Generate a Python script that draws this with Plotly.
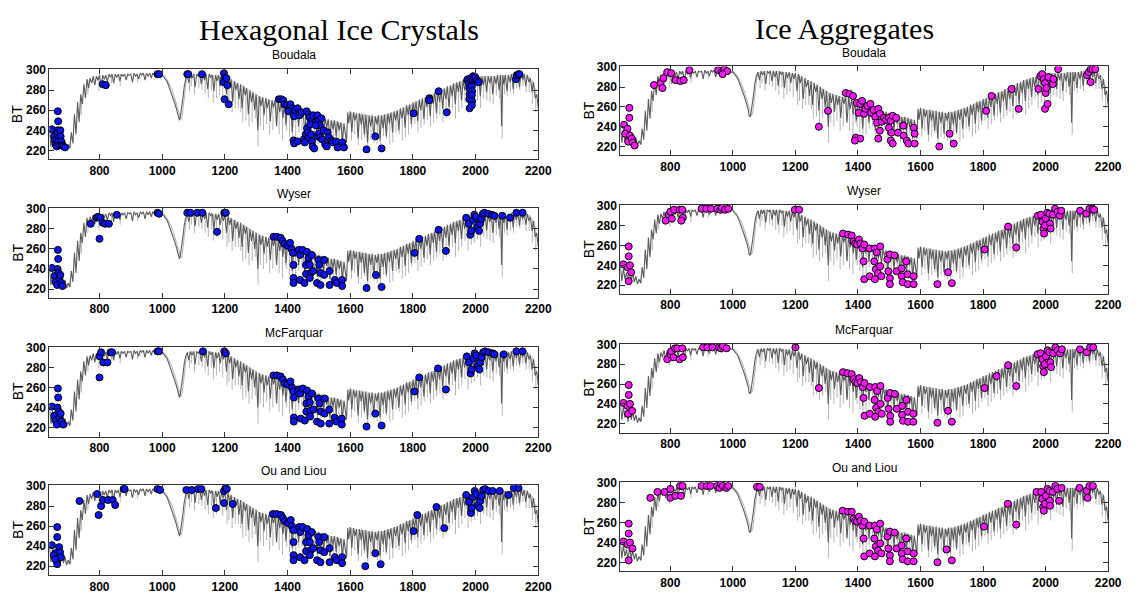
import plotly.graph_objects as go

W, H = 1138, 597

# ---------------- spectrum (wavenumber, BT) ----------------
spectrum = [
(640,240),(645,224),(650,237),(655,226),(660,233),(665,222),(670,236),(675,224),(680,232),(685,223),
(690,229),(695,221),(700,226),(705,222),(710,238),(715,227),(720,256),(725,236),(730,268),(735,248),
(740,276),(745,266),(750,286),(755,272),(760,291),(765,282),(770,292),(775,287),(780,294),(785,285),
(790,294),(795,290),(800,295),(805,283),(810,295),(815,291),(820,295),(825,288),(830,296),(835,293),
(840,296),(845,287),(850,296),(855,293),(860,296),(865,289),(870,296),(875,294),(880,296),(885,290),
(890,296),(895,295),(900,296),(905,288),(910,297),(915,294),(920,296),(925,291),(930,297),(935,295),
(940,297),(945,290),(950,297),(955,294),(960,297),(965,292),(970,297),(975,295),(980,297),(985,293),
(990,296),(995,295),(1000,295),(1005,293),(1010,291),(1015,289),(1020,285),(1025,281),(1030,277),(1035,272),
(1040,267),(1045,262),(1050,256),(1052,251),(1055,250),(1058,254),(1062,262),(1066,272),(1070,283),(1075,291),
(1080,295),(1085,287),(1090,296),(1095,292),(1100,296),(1105,283),(1110,296),(1115,294),(1120,296),(1125,286),
(1130,296),(1135,290),(1140,296),(1145,281),(1150,296),(1155,293),(1160,295),(1165,279),(1170,295),(1175,289),
(1180,295),(1185,284),(1190,294),(1195,288),(1200,294),(1205,276),(1210,293),(1215,284),(1220,291),(1225,268),
(1230,289),(1235,280),(1240,287),(1245,271),(1250,286),(1255,262),(1260,284),(1265,275),(1270,282),(1275,256),
(1280,280),(1285,268),(1290,278),(1295,260),(1300,276),(1305,240),(1310,274),(1315,264),(1320,273),(1325,255),
(1330,272),(1335,262),(1340,271),(1345,249),(1350,270),(1355,263),(1360,270),(1365,244),(1370,269),(1375,258),
(1380,268),(1385,252),(1390,267),(1395,246),(1400,266),(1405,257),(1410,264),(1415,238),(1420,263),(1425,252),
(1430,262),(1435,244),(1440,260),(1445,254),(1450,259),(1455,236),(1460,258),(1465,247),(1470,257),(1475,241),
(1480,256),(1485,249),(1490,255),(1495,232),(1500,254),(1505,245),(1510,253),(1515,237),(1520,252),(1525,243),
(1530,251),(1535,230),(1540,250),(1545,241),(1550,250),(1555,234),(1560,249),(1565,240),(1570,248),(1575,228),
(1580,247),(1585,236),(1588,228),(1592,258),(1595,247),(1600,259),(1605,238),(1610,258),(1615,250),(1620,257),
(1625,232),(1630,257),(1635,246),(1640,256),(1645,236),(1650,256),(1655,228),(1660,255),(1665,244),(1670,255),
(1675,233),(1680,254),(1685,246),(1690,255),(1695,230),(1700,255),(1705,242),(1710,256),(1715,234),(1720,257),
(1725,247),(1730,258),(1735,238),(1740,259),(1745,250),(1750,260),(1755,240),(1760,262),(1765,252),(1770,263),
(1775,243),(1780,265),(1785,255),(1790,266),(1795,246),(1800,268),(1805,258),(1810,269),(1815,249),(1820,271),
(1825,260),(1830,272),(1835,251),(1840,273),(1845,263),(1850,275),(1855,254),(1860,276),(1865,266),(1870,278),
(1875,257),(1880,279),(1885,268),(1890,281),(1895,261),(1900,282),(1905,271),(1910,284),(1915,263),(1920,285),
(1925,274),(1930,287),(1935,266),(1940,288),(1945,278),(1950,289),(1955,270),(1960,290),(1965,280),(1970,291),
(1975,272),(1980,292),(1985,282),(1990,293),(1995,276),(2000,293),(2005,284),(2010,294),(2015,274),(2020,294),
(2025,285),(2030,294),(2035,278),(2040,294),(2045,287),(2050,294),(2055,276),(2060,294),(2065,286),(2070,295),
(2075,280),(2080,295),(2083,244),(2087,295),(2090,286),(2095,295),(2100,279),(2105,295),(2110,288),(2115,296),
(2120,281),(2125,296),(2130,289),(2135,297),(2140,283),(2145,297),(2150,290),(2155,296),(2160,284),(2165,295),
(2170,288),(2175,292),(2180,278),(2185,288),(2190,272),(2195,276),(2200,262),
]

# lighter second curve through the ozone band (wavenumber, BT)
ozone_light = [
(998,296),(1008,294),(1018,289),(1028,283),(1036,276),(1044,268),(1051,260),(1056,254),(1060,251),
(1064,255),(1068,266),(1072,279),(1077,290),(1083,295),
]

# light grey absorption lines: (wavenumber, top BT, bottom BT)
light_dips = [
(708,232,222),(742,272,255),(763,290,276),(798,294,279),(838,296,287),(866,296,284),(921,296,288),
(1087,295,279),(1103,296,276),(1127,296,280),(1147,296,272),(1163,295,268),(1183,294,275),(1207,292,262),
(1223,290,258),(1243,287,262),(1257,285,248),(1277,281,244),(1297,277,252),(1306,275,224),(1323,273,240),
(1343,271,236),(1364,269,246),(1384,267,231),(1397,266,240),(1416,263,229),(1436,261,238),(1457,258,227),
(1476,256,235),(1496,254,226),(1516,252,233),(1536,250,224),(1556,249,230),(1574,247,223),(1604,258,230),
(1626,257,225),(1646,256,233),(1656,255,222),(1676,254,228),(1696,255,224),(1716,256,232),(1736,258,228),
(1756,261,236),(1776,264,233),(1796,266,242),(1816,269,238),(1836,272,246),(1856,275,244),(1876,278,251),
(1896,281,248),(1916,284,256),(1936,287,252),(1956,289,262),(1976,291,258),(1996,293,266),(2016,294,262),
(2036,294,270),(2056,294,266),(2076,295,272),(2085,295,232),(2101,295,274),(2121,296,276),(2141,297,280),
(2161,296,278),(2181,290,266),(2192,282,258),
(1093,296,284),(1117,296,282),(1137,296,276),(1157,296,280),(1173,295,272),(1193,294,270),(1213,292,266),
(1233,289,262),(1251,286,258),(1267,283,250),(1287,279,248),(1313,274,244),(1333,272,246),(1353,270,240),
(1373,268,236),(1393,266,244),(1406,265,234),(1426,262,232),(1446,259,240),(1466,257,230),(1486,255,236),
(1506,253,228),(1526,251,234),(1546,250,228),(1564,248,232),(1614,258,236),(1636,257,230),(1666,255,230),
(1686,254,226),(1706,255,234),(1726,257,226),(1746,259,238),(1766,262,230),(1786,265,236),(1806,268,246),
(1826,270,242),(1846,274,250),(1866,277,248),(1886,280,255),(1906,283,252),(1926,286,262),(1946,288,258),
(1966,290,268),(1986,292,264),(2006,294,270),(2026,294,272),(2046,294,268),(2066,294,274),(2092,295,276),
(2111,296,278),(2131,297,282),(2151,297,284),(2171,294,278),
]

# ---------------- retrieved points (wavenumber, BT) ----------------
hex_boudala = [
(648,241),(655,234),(658,230),(660,226),(663,224),(667,259),(668,249),(666,240),(665,237),(670,233),
(668,229),(672,225),(675,240),(676,234),(678,229),(680,225),(685,224),(690,223),
(810,286),(820,285),(985,296),(990,296),(1080,296),(1083,296),(1127,296),
(1197,297),(1198,292),(1196,288),(1205,292),(1208,285),(1199,271),(1212,266),
(1372,271),(1380,271),(1386,270),(1390,266),(1398,265),(1405,262),(1409,266),(1414,262),(1403,259),(1419,257),
(1424,260),(1421,254),(1432,262),(1440,257),(1438,255),(1445,258),(1461,259),(1467,256),(1470,253),(1478,250),
(1482,255),(1490,248),(1495,255),(1500,250),(1503,245),(1508,252),
(1419,230),(1421,227),(1432,229),(1452,231),(1455,228),(1458,236),(1462,242),(1465,238),(1468,233),(1472,246),
(1475,236),(1478,229),(1480,224),(1485,222),(1490,245),(1495,234),(1500,237),(1505,233),(1510,231),(1515,240),
(1520,226),(1525,224),(1528,238),(1532,233),(1540,230),(1545,228),(1555,229),(1560,223),(1575,228),(1580,223),
(1652,221),(1680,234),(1700,222),(1802,257),(1852,272),(1852,270),(1882,279),(1908,258),
(1973,290),(1975,291),(1979,287),(1980,282),(1981,276),(1980,271),(1981,262),(1985,292),(1986,289),(1990,291),
(1988,284),(1989,279),(1988,275),(1989,269),(1988,265),(1992,294),(1995,292),(1999,293),(2005,290),(2010,288),
(2129,291),(2131,295),(2137,296),(2140,296),
]

hex_wyser = [
(648,241),(657,233),(660,227),(665,224),(667,259),(668,250),(666,240),(670,236),(672,230),(675,234),
(678,226),(682,223),
(772,285),(790,291),(795,292),(800,270),(803,291),(810,286),(818,285),(830,285),(855,294),
(985,296),(990,295),(1080,296),(1090,296),(1112,296),(1128,296),(1175,277),(1198,296),(1203,296),
(1355,272),(1366,272),(1378,271),(1384,268),(1390,265),(1400,263),(1408,266),(1413,260),(1417,256),(1419,244),
(1419,231),(1419,226),(1436,259),(1440,254),(1440,229),(1448,259),(1462,257),(1459,244),(1459,235),(1454,226),
(1467,251),(1471,244),(1474,236),(1471,231),(1477,254),(1482,238),(1494,226),(1499,249),(1501,244),(1505,236),
(1505,224),(1517,249),(1517,234),(1534,238),(1534,224),(1551,229),(1557,226),(1574,229),(1574,223),
(1652,221),(1682,234),(1700,222),(1805,256),(1820,270),(1882,279),(1905,258),
(1970,291),(1978,285),(1983,274),(1987,278),(1992,289),(1996,294),(2001,292),(2006,282),(2011,278),(2014,285),
(2018,290),(2023,295),(2028,296),(2040,295),(2052,294),(2060,293),(2085,293),(2110,291),(2130,296),(2150,296),
]

hex_mcfarquar = [
(648,241),(656,232),(660,227),(664,223),(667,259),(668,250),(666,240),(670,236),(673,230),(676,234),
(679,226),(684,223),
(800,270),(800,291),(805,295),(812,285),(825,285),(835,295),(840,295),
(985,296),(990,296),(1130,296),(1198,296),(1203,294),
(1355,272),(1366,272),(1378,271),(1385,268),(1391,264),(1400,263),(1409,266),(1414,260),(1418,256),(1420,250),
(1420,230),(1420,226),(1436,258),(1440,254),(1442,229),(1449,259),(1462,257),(1460,244),(1460,236),(1455,227),
(1467,251),(1471,245),(1474,237),(1472,231),(1478,254),(1483,238),(1494,226),(1498,249),(1502,244),(1506,236),
(1506,224),(1518,249),(1518,234),(1533,238),(1533,224),(1550,230),(1556,226),(1573,229),(1573,223),
(1652,221),(1680,234),(1700,222),(1805,256),(1820,270),(1880,279),(1905,258),
(1972,291),(1979,285),(1984,274),(1988,278),(1993,289),(1997,294),(2002,292),(2007,282),(2012,278),(2015,285),
(2019,290),(2024,295),(2030,296),(2042,295),(2055,294),(2060,293),(2090,293),(2130,296),(2150,296),
]

hex_ouliou = [
(648,241),(665,259),(665,249),(659,233),(654,231),(671,239),(674,234),(665,224),(677,229),(665,222),
(659,227),
(736,285),(793,292),(797,271),(805,280),(811,286),(827,286),(842,286),(850,281),(877,297),(880,297),
(985,297),(993,296),(1077,296),(1094,296),(1114,297),(1125,297),(1171,278),(1197,295),(1197,283),(1202,298),
(1206,297),(1225,282),
(1353,272),(1365,272),(1379,271),(1385,268),(1391,265),(1402,263),(1410,266),(1414,260),(1418,256),(1419,244),
(1419,231),(1419,226),(1437,259),(1440,254),(1440,229),(1448,259),(1463,257),(1459,244),(1459,235),(1454,226),
(1467,251),(1471,244),(1474,236),(1471,231),(1477,254),(1482,238),(1494,226),(1499,249),(1501,244),(1505,236),
(1505,224),(1517,249),(1517,234),(1534,238),(1534,224),(1551,229),(1557,226),(1574,229),(1574,223),
(1648,220),(1680,233),(1697,222),(1802,255),(1814,271),(1875,279),(1900,258),
(1970,291),(1979,284),(1985,273),(1988,278),(1993,289),(1997,295),(2002,292),(2008,281),(2013,278),(2015,285),
(2019,290),(2024,296),(2030,297),(2041,295),(2054,295),(2077,295),(2105,291),(2122,298),(2137,298),
]

agg_boudala = [
(652,242),(669,259),(669,249),(663,238),(656,233),(671,231),(665,225),(677,228),(680,224),(686,221),
(748,282),(769,284),(775,279),(778,289),(790,295),(803,294),(817,287),(832,286),(843,287),(861,297),
(953,297),(964,295),(973,298),(982,296),(967,293),
(1275,240),(1304,256),
(1361,274),(1373,273),(1384,271),(1396,264),(1407,263),(1402,254),(1413,266),(1419,253),(1424,258),(1430,261),
(1440,263),(1442,254),(1450,257),(1455,250),(1393,229),(1407,228),(1390,226),(1465,258),(1470,253),(1461,244),
(1470,236),(1465,228),(1476,245),(1483,249),(1490,247),(1499,249),(1505,246),(1511,251),(1522,249),(1499,239),
(1507,234),(1505,226),(1511,223),(1528,234),(1545,241),(1546,231),(1556,226),(1561,223),(1578,239),(1581,233),
(1581,223),
(1660,220),(1693,233),(1706,223),(1810,256),(1827,271),(1891,278),(1914,258),
(1977,278),(1983,291),(1989,293),(1994,288),(1998,284),(2000,274),(1998,258),(2006,263),(2002,279),(2009,290),
(2023,283),(2025,288),(2040,298),
(2132,292),(2138,295),(2144,298),(2150,298),(2159,298),(2144,285),
]

agg_wyser = [
(650,241),(667,259),(667,249),(663,238),(671,240),(667,224),(675,233),
(785,285),(795,291),(800,294),(805,287),(812,296),(830,296),(838,296),(840,288),(835,285),
(900,297),(915,297),(930,297),(950,297),(960,296),(965,298),(975,296),(985,297),
(1198,296),(1212,296),
(1352,272),(1368,271),(1380,270),(1386,264),(1391,262),(1397,261),(1403,266),(1408,262),(1414,257),(1420,261),
(1418,244),(1420,226),(1437,257),(1437,229),(1454,257),(1460,253),(1452,244),(1457,236),(1464,232),(1454,226),
(1471,259),(1471,239),(1475,229),(1494,246),(1502,251),(1497,234),(1502,227),(1502,221),(1517,250),(1523,234),
(1540,237),(1540,229),(1543,223),(1554,244),(1559,231),(1559,221),(1578,229),(1578,221),
(1654,221),(1688,233),(1700,222),(1805,256),(1880,279),(1906,258),
(1975,290),(1985,291),(1990,284),(1993,277),(1995,272),(1998,280),(2000,287),(2005,293),(2012,292),(2014,282),
(2016,277),(2023,291),(2030,297),(2038,294),(2045,290),(2050,295),(2110,295),(2130,292),(2140,297),(2150,297),
(2155,296),
]

agg_mcfarquar = [
(650,241),(667,259),(667,249),(663,238),(671,240),(665,230),(678,233),
(790,285),(800,290),(803,293),(810,287),(815,296),(822,296),(830,285),(838,296),(840,287),
(905,297),(918,297),(935,297),(955,297),(962,296),(968,298),(980,296),
(1200,297),(1275,256),
(1352,272),(1366,271),(1380,270),(1386,265),(1392,262),(1398,261),(1404,266),(1409,262),(1415,257),(1421,261),
(1418,246),(1421,228),(1438,257),(1438,230),(1455,257),(1461,253),(1453,244),(1458,236),(1465,232),(1455,227),
(1472,258),(1472,240),(1476,230),(1495,246),(1503,251),(1498,235),(1503,228),(1503,222),(1518,250),(1524,235),
(1541,238),(1541,229),(1544,223),(1555,244),(1560,232),(1560,222),(1577,230),(1577,222),
(1654,221),(1688,233),(1700,222),(1805,256),(1843,268),(1880,279),(1906,258),
(1974,290),(1984,291),(1989,285),(1992,278),(1994,272),(1997,280),(2001,288),(2006,294),(2012,292),(2015,282),
(2017,277),(2024,291),(2031,297),(2038,294),(2046,291),(2052,295),(2110,295),(2132,292),(2142,297),(2152,297),
]

agg_ouliou = [
(650,241),(667,259),(667,249),(663,238),(671,240),(679,234),(667,222),
(736,285),(759,291),(782,291),(800,294),(800,285),(816,287),(831,297),(839,297),(834,287),
(900,297),(917,297),(928,297),(949,297),(957,295),(962,299),(968,297),(979,295),(985,297),
(1077,296),(1086,296),
(1351,272),(1368,271),(1380,271),(1386,264),(1391,262),(1397,261),(1403,266),(1408,262),(1414,257),(1420,261),
(1418,244),(1420,226),(1437,257),(1437,229),(1454,257),(1460,253),(1452,244),(1457,236),(1464,232),(1454,226),
(1471,259),(1471,239),(1475,229),(1494,246),(1502,251),(1497,234),(1502,227),(1502,221),(1517,250),(1523,234),
(1540,237),(1540,229),(1543,223),(1554,244),(1559,231),(1559,221),(1578,229),(1578,221),
(1654,220),(1683,233),(1700,222),(1803,256),(1879,279),(1906,258),
(1971,291),(1986,291),(1989,284),(1992,276),(1994,272),(1998,279),(2001,287),(2006,294),(2012,292),(2014,282),
(2014,277),(2023,291),(2031,297),(2037,294),(2043,282),(2051,295),(2108,295),(2131,292),(2134,285),(2140,297),
(2151,297),
]

col_titles = ["Hexagonal Ice Crystals", "Ice Aggregates"]
row_titles = ["Boudala", "Wyser", "McFarquar", "Ou and Liou"]
point_sets = [
    [hex_boudala, hex_wyser, hex_mcfarquar, hex_ouliou],
    [agg_boudala, agg_wyser, agg_mcfarquar, agg_ouliou],
]
point_colors = ["#0a14f5", "#ff14ff"]

# ---------------- layout geometry (pixels) ----------------
col_x = [(50, 545), (628, 1122)]
col_rows = [
    [(64, 155), (204, 295), (344, 435), (484, 575)],
    [(61, 151), (201, 291), (341, 431), (481, 571)],
]

fig = go.Figure()
layout = dict(
    width=W, height=H, margin=dict(l=0, r=0, t=0, b=0),
    paper_bgcolor="white", plot_bgcolor="white", showlegend=False,
)
annotations = []

spec_x = [p[0] for p in spectrum]
spec_y = [p[1] for p in spectrum]
dip_x, dip_y = [], []
for wn, top, bot in light_dips:
    dip_x += [wn, wn, None]
    dip_y += [top, bot, None]
dip_x += [None] + [p[0] for p in ozone_light]
dip_y += [None] + [p[1] for p in ozone_light]

k = 0
for c in range(2):
    x0, x1 = col_x[c]
    for r in range(4):
        k += 1
        top, bot = col_rows[c][r]
        xa = "x" if k == 1 else f"x{k}"
        ya = "y" if k == 1 else f"y{k}"
        fig.add_trace(go.Scatter(x=dip_x, y=dip_y, mode="lines",
                                 line=dict(color="#b4b4b4", width=1),
                                 xaxis=xa, yaxis=ya, hoverinfo="skip"))
        fig.add_trace(go.Scatter(x=spec_x, y=spec_y, mode="lines",
                                 line=dict(color="#5c5c5c", width=1.1),
                                 xaxis=xa, yaxis=ya, hoverinfo="skip"))
        pts = point_sets[c][r]
        fig.add_trace(go.Scatter(x=[p[0] for p in pts], y=[p[1] for p in pts], mode="markers",
                                 marker=dict(color=point_colors[c], size=7,
                                             line=dict(color="black", width=1)),
                                 xaxis=xa, yaxis=ya))
        axis_common = dict(showline=True, linecolor="#333333", linewidth=1, mirror="ticks",
                           ticks="inside", ticklen=5, tickcolor="#333333", showgrid=False,
                           zeroline=False,
                           tickfont=dict(family="Liberation Sans, Arial", size=12, color="black",
                                         weight="bold"))
        xname = "xaxis" if k == 1 else f"xaxis{k}"
        yname = "yaxis" if k == 1 else f"yaxis{k}"
        layout[xname] = dict(domain=[x0 / W, x1 / W], range=[640, 2200], anchor=ya,
                             tickvals=[800, 1000, 1200, 1400, 1600, 1800, 2000, 2200], **axis_common)
        layout[yname] = dict(domain=[1 - bot / H, 1 - top / H], range=[211, 300.8], anchor=xa,
                             tickvals=[220, 240, 260, 280, 300], **axis_common)
        annotations.append(dict(text=row_titles[r], xref="paper", yref="paper",
                                x=(x0 + x1) / 2 / W, y=1 - (top - 14) / H, showarrow=False,
                                xanchor="center", yanchor="middle",
                                font=dict(family="Liberation Sans, Arial", size=12, color="black")))
        annotations.append(dict(text="BT", xref="paper", yref="paper",
                                x=(x0 - 32) / W, y=1 - (top + bot) / 2 / H, showarrow=False,
                                textangle=-90, xanchor="center", yanchor="middle",
                                font=dict(family="Liberation Sans, Arial", size=14, color="black")))

annotations.append(dict(text=col_titles[0], xref="paper", yref="paper", x=343 / W, y=1 - 24 / H,
                        showarrow=False, xanchor="center", yanchor="middle",
                        font=dict(family="Liberation Serif, Times New Roman", size=30, color="black")))
annotations.append(dict(text=col_titles[1], xref="paper", yref="paper", x=855 / W, y=1 - 23 / H,
                        showarrow=False, xanchor="center", yanchor="middle",
                        font=dict(family="Liberation Serif, Times New Roman", size=30, color="black")))
layout["annotations"] = annotations
fig.update_layout(**layout)
fig.write_html("out.html")
